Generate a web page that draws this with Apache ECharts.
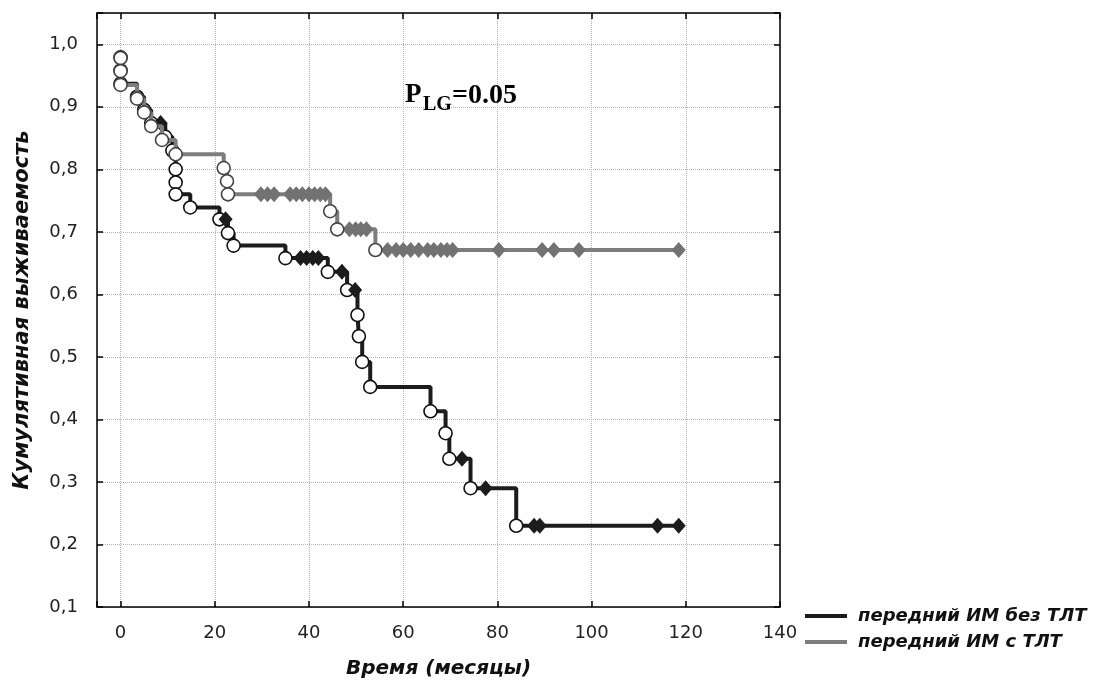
<!DOCTYPE html>
<html>
<head>
<meta charset="utf-8">
<script src="https://cdn.jsdelivr.net/npm/echarts@6/dist/echarts.min.js"></script>
<style>
html,body{margin:0;padding:0;background:#fff;}
#chart{width:1115px;height:686px;}
</style>
</head>
<body>
<div id="chart"></div>
<script>
// ---- data ----
const seriesNames = ['передний ИМ без ТЛТ', 'передний ИМ с ТЛТ'];
const xTickLabels = [0, 20, 40, 60, 80, 100, 120, 140];
const yTickLabels = ['0,1','0,2','0,3','0,4','0,5','0,6','0,7','0,8','0,9','1,0'];

// group 1 (без ТЛТ): complete observations (events)
const blackEventT = [0, 0, 0, 3.5, 5, 6.5, 9.5, 11, 11.7, 11.7, 11.7, 14.8, 21, 22.8, 24, 35, 44, 48.1, 50.3, 50.6, 51.3, 53, 65.8, 69, 69.8, 74.3, 84];
const blackEventS = [0.979, 0.958, 0.937, 0.916, 0.895, 0.874, 0.852, 0.83, 0.80, 0.779, 0.76, 0.739, 0.72, 0.698, 0.678, 0.658, 0.636, 0.607, 0.567, 0.533, 0.492, 0.452, 0.413, 0.378, 0.337, 0.29, 0.23];
// group 1 censored times
const blackCensT = [8.5, 22.3, 38.2, 39.5, 40.8, 42, 47, 49.8, 72.5, 77.5, 87.8, 89, 114, 118.5];
const blackEndT = 118.5;

// group 2 (с ТЛТ)
const grayEventT = [0, 0, 0, 3.5, 5, 6.5, 8.8, 11.7, 21.9, 22.6, 22.8, 44.5, 46, 54.1];
const grayEventS = [0.978, 0.957, 0.935, 0.913, 0.891, 0.869, 0.847, 0.824, 0.802, 0.781, 0.76, 0.733, 0.704, 0.671];
const grayCensT = [29.8, 31.2, 32.6, 36, 37.3, 38.6, 40, 41.2, 42.4, 43.5, 48.6, 49.9, 51, 52.2, 56.7, 58.5, 60, 61.6, 63.3, 65.2, 66.5, 68, 69.3, 70.5, 80.3, 89.5, 92, 97.3, 118.5];
const grayEndT = 118.5;

const pText = ['P', 'LG', '=0.05'];

// ---- helpers ----
function survivalAt(ts, ss, t) {
  let s = 1;
  for (let i = 0; i < ts.length; i++) if (ts[i] <= t) s = ss[i];
  return s;
}
function curve(ts, ss, endT) {
  const d = [];
  for (let i = 0; i < ts.length; i++) d.push([ts[i], ss[i]]);
  d.push([endT, ss[ss.length - 1]]);
  return d;
}
function events(ts, ss) { return ts.map((t, i) => [t, ss[i]]); }
function censored(cts, ts, ss) { return cts.map(t => [t, survivalAt(ts, ss, t)]); }

const BLACK = '#1c1c1c';
const GRAY = '#7d7d7d';
const labelFont = 'DejaVu Sans';

const chart = echarts.init(document.getElementById('chart'), null, {renderer: 'canvas'});

const axisCommon = {
  min: -5, max: 140, minInterval: 20, maxInterval: 20, splitNumber: 7
};

const option = {
  animation: false,
  backgroundColor: '#fff',
  grid: {left: 97, right: 335, top: 13, bottom: 79, show: false, outerBoundsMode: 'none'},
  xAxis: [{
    type: 'value', ...axisCommon,
    name: 'Время (месяцы)', nameLocation: 'middle', nameGap: 52,
    nameTextStyle: {fontFamily: labelFont, fontStyle: 'italic', fontWeight: 'bold', fontSize: 20, color: '#111'},
    axisLine: {show: true, onZero: false, lineStyle: {color: '#000', width: 1.5}},
    axisTick: {show: true, inside: true, length: 6, lineStyle: {color: '#000', width: 1.5}},
    axisLabel: {
      margin: 17, fontFamily: labelFont, fontSize: 18, color: '#222',
      formatter: v => (xTickLabels.indexOf(Math.round(v)) >= 0 && Math.abs(v - Math.round(v)) < 1e-6 && Math.round(v) % 20 === 0) ? String(Math.round(v)) : ''
    },
    splitLine: {show: true, lineStyle: {color: '#b4b4b4', type: 'dotted', width: 1}}
  }, {
    type: 'value', ...axisCommon, position: 'top',
    axisLine: {show: true, onZero: false, lineStyle: {color: '#000', width: 1.5}},
    axisTick: {show: true, inside: true, length: 6, lineStyle: {color: '#000', width: 1.5}},
    axisLabel: {show: false}, splitLine: {show: false}
  }],
  yAxis: [{
    type: 'value', min: 0.1, max: 1.05, interval: 0.1,
    name: 'Кумулятивная выживаемость', nameLocation: 'middle', nameGap: 64, nameRotate: 90,
    nameTextStyle: {fontFamily: labelFont, fontStyle: 'italic', fontWeight: 'bold', fontSize: 21, color: '#111'},
    axisLine: {show: true, onZero: false, lineStyle: {color: '#000', width: 1.5}},
    axisTick: {show: true, inside: true, length: 6, lineStyle: {color: '#000', width: 1.5}},
    axisLabel: {
      margin: 19, fontFamily: labelFont, fontSize: 18, color: '#222',
      formatter: v => {
        const k = Math.round(v * 10);
        if (Math.abs(v * 10 - k) > 1e-6 || k < 1 || k > 10) return '';
        return yTickLabels[k - 1];
      }
    },
    splitLine: {show: true, lineStyle: {color: '#b4b4b4', type: 'dotted', width: 1}}
  }, {
    type: 'value', min: 0.1, max: 1.05, interval: 0.1, position: 'right',
    axisLine: {show: true, onZero: false, lineStyle: {color: '#000', width: 1.5}},
    axisTick: {show: true, inside: true, length: 6, lineStyle: {color: '#000', width: 1.5}},
    axisLabel: {show: false}, splitLine: {show: false}
  }],
  legend: {
    orient: 'vertical', left: 805, top: 606, padding: 0,
    itemWidth: 42, itemHeight: 4, itemGap: 6,
    textStyle: {fontFamily: labelFont, fontStyle: 'italic', fontWeight: 'bold', fontSize: 18, color: '#111', lineHeight: 20, padding: [0, 0, 0, 6]},
    data: [{name: seriesNames[0], icon: 'rect'}, {name: seriesNames[1], icon: 'rect'}]
  },
  series: [
    {
      name: seriesNames[0], type: 'line', step: 'end', color: BLACK,
      data: curve(blackEventT, blackEventS, blackEndT),
      showSymbol: false, symbol: 'none', z: 2,
      lineStyle: {color: BLACK, width: 4}
    },
    {
      name: seriesNames[0] + ' events', type: 'scatter', z: 3,
      data: events(blackEventT, blackEventS),
      symbol: 'circle', symbolSize: 13,
      itemStyle: {color: '#fff', borderColor: '#111', borderWidth: 1.6, opacity: 1}
    },
    {
      name: seriesNames[0] + ' censored', type: 'scatter', z: 3,
      data: censored(blackCensT, blackEventT, blackEventS),
      symbol: 'diamond', symbolSize: [14, 16],
      itemStyle: {color: BLACK, opacity: 1}
    },
    {
      name: seriesNames[1], type: 'line', step: 'end', color: GRAY,
      data: curve(grayEventT, grayEventS, grayEndT),
      showSymbol: false, symbol: 'none', z: 4,
      lineStyle: {color: GRAY, width: 4}
    },
    {
      name: seriesNames[1] + ' censored', type: 'scatter', z: 5,
      data: censored(grayCensT, grayEventT, grayEventS),
      symbol: 'diamond', symbolSize: [14, 16],
      itemStyle: {color: '#727272', opacity: 1}
    },
    {
      name: seriesNames[1] + ' events', type: 'scatter', z: 5,
      data: events(grayEventT, grayEventS),
      symbol: 'circle', symbolSize: 13,
      itemStyle: {color: '#fff', borderColor: '#444', borderWidth: 1.6, opacity: 1}
    }
  ],
  graphic: [
    {type: 'text', left: 405, top: 82, z: 10,
     style: {text: pText[0], font: 'bold 27px "Liberation Serif"', fill: '#000'}},
    {type: 'text', left: 423, top: 95, z: 10,
     style: {text: pText[1], font: 'bold 20px "Liberation Serif"', fill: '#000'}},
    {type: 'text', left: 452, top: 82, z: 10,
     style: {text: pText[2], font: 'bold 28px "Liberation Serif"', fill: '#000'}}
  ]
};
chart.setOption(option);
</script>
</body>
</html>
